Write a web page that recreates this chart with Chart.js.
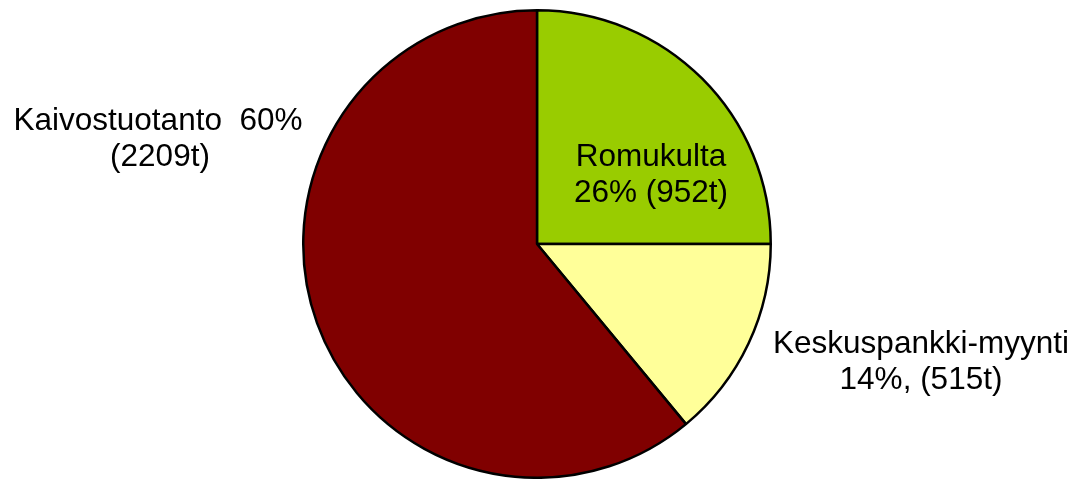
<!DOCTYPE html>
<html>
<head>
<meta charset="utf-8">
<script src="https://cdn.jsdelivr.net/npm/chart.js@4"></script>
<style>
  html, body { margin: 0; padding: 0; background: #fff; }
  #wrap { width: 1076px; height: 479px; position: relative; }
</style>
</head>
<body>
<div id="wrap"><canvas id="goldChart"></canvas></div>
<script>
// Kullan tarjonta (tonnia)
const categories = ['Romukulta', 'Keskuspankki-myynti', 'Kaivostuotanto'];
const tonnes = [952, 515, 2209];
const percents = [26, 14, 60];
// slice sizes as they are drawn in the picture (%)
const sliceShares = [25, 14, 61];
const sliceColors = ['#99CC00', '#FFFF99', '#800000'];

// label lines for each slice
const labelLines = [
    ['Romukulta', percents[0] + '% (' + tonnes[0] + 't)'],
    ['Keskuspankki-myynti', percents[1] + '%, (' + tonnes[1] + 't)'],
    ['Kaivostuotanto  ' + percents[2] + '%', '(' + tonnes[2] + 't)']
];

// where to put the labels (relative to pie centre)
const labelAnchors = [
    { dx: 114, dy: -87 },
    { dx: 384, dy: 100 },
    { dx: -379, dy: -123 }
];

const sliceLabels = {
    id: 'sliceLabels',
    afterDraw(chart) {
        const ctx = chart.ctx;
        const arc = chart.getDatasetMeta(0).data[0];
        const cx = arc.x, cy = arc.y;
        ctx.save();
        ctx.font = '31.5px "Liberation Sans", Arial, sans-serif';
        ctx.fillStyle = '#000';
        ctx.textAlign = 'center';
        ctx.textBaseline = 'middle';
        labelLines.forEach((lines, i) => {
            const a = labelAnchors[i];
            lines.forEach((txt, j) => {
                let x = cx + a.dx;
                if (i === 2 && j === 1) x += 2;
                ctx.fillText(txt, x, cy + a.dy + j * 36);
            });
        });
        ctx.restore();
    }
};

function initGoldChart() {
    const ctx = document.getElementById('goldChart').getContext('2d');
    new Chart(ctx, {
        type: 'pie',
        data: {
            labels: categories,
            datasets: [{
                data: sliceShares,
                backgroundColor: sliceColors,
                borderColor: '#000',
                borderWidth: 2.5
            }]
        },
        options: {
            responsive: true,
            maintainAspectRatio: false,
            animation: false,
            layout: { padding: { left: 302, right: 304, top: 9, bottom: 0 } },
            plugins: {
                legend: { display: false },
                tooltip: { enabled: false }
            }
        },
        plugins: [sliceLabels]
    });
}

document.addEventListener('DOMContentLoaded', initGoldChart);
</script>
</body>
</html>
